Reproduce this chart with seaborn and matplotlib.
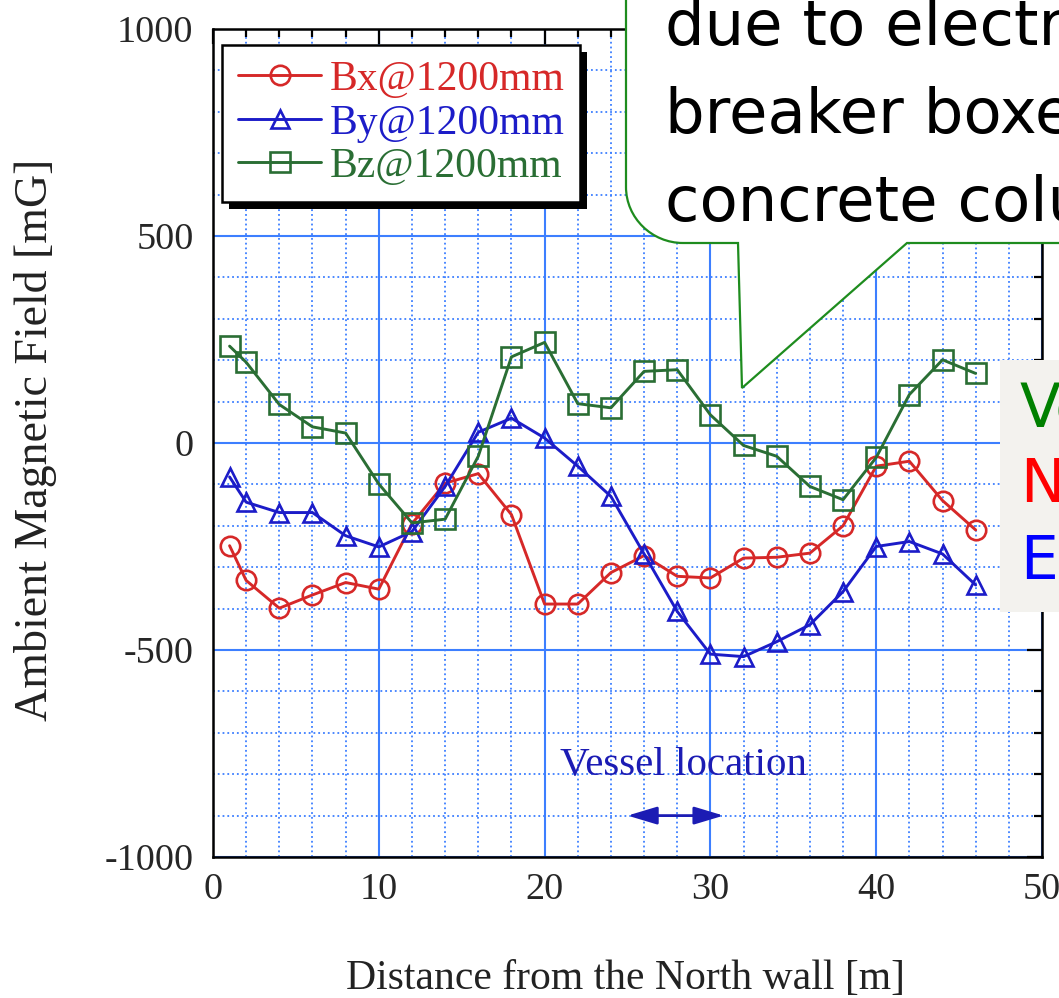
import matplotlib
matplotlib.use("Agg")
import matplotlib.pyplot as plt
import numpy as np
import pandas as pd
import seaborn as sns
from matplotlib.path import Path
from matplotlib.patches import PathPatch, Rectangle
from matplotlib.ticker import MultipleLocator

# Ambient field survey along the hall, sensor height 1200 mm
distance_m = [1, 2, 4, 6, 8, 10, 12, 14, 16, 18, 20, 22, 24, 26, 28, 30,
              32, 34, 36, 38, 40, 42, 44, 46]
bx_mG = [-248, -332, -399, -367, -337, -353, -195, -97, -74, -173, -389, -389,
         -313, -272, -322, -326, -278, -276, -266, -200, -56, -44, -139, -210]
by_mG = [-82, -143, -168, -168, -224, -251, -214, -105, 26, 60, 12, -56,
         -129, -268, -407, -510, -516, -480, -439, -359, -250, -238, -268, -343]
bz_mG = [234, 195, 93, 39, 24, -99, -193, -184, -32, 208, 243, 95,
         85, 173, 177, 68, -6, -32, -105, -137, -35, 117, 201, 168]

series_labels = ["Bx@1200mm", "By@1200mm", "Bz@1200mm"]
series_colors = ["#d62828", "#1c1cc8", "#2a6e34"]
series_markers = ["o", "^", "s"]

callout_lines = ["due to electric", "breaker boxes in", "concrete columns"]
axis_words = ["Vertical", "North", "East"]
axis_word_colors = ["#008000", "#ff0000", "#0000ff"]

W, H = 1059, 998
sns.set_theme(style="white")
plt.rcParams["font.family"] = ["Liberation Serif", "DejaVu Serif"]
plt.rcParams["axes.unicode_minus"] = False

fig = plt.figure(figsize=(W / 100, H / 100), dpi=100)
ax = fig.add_axes([213 / W, 1 - 857 / H, (1042 - 213) / W, (857 - 29) / H])

frames = []
for lab, vals in zip(series_labels, [bx_mG, by_mG, bz_mG]):
    frames.append(pd.DataFrame({"distance": distance_m, "field": vals, "series": lab}))
df = pd.concat(frames, ignore_index=True)

for lab, col, mk in zip(series_labels, series_colors, series_markers):
    sub = df[df["series"] == lab]
    sns.lineplot(data=sub, x="distance", y="field", ax=ax, color=col,
                 marker=mk, markersize=14 if mk != "^" else 13,
                 markerfacecolor="none", markeredgecolor=col,
                 markeredgewidth=1.9, linewidth=2.1, label=lab,
                 legend=False, zorder=3)

ax.set_xlim(0, 50)
ax.set_ylim(-1000, 1000)
ax.xaxis.set_major_locator(MultipleLocator(10))
ax.xaxis.set_minor_locator(MultipleLocator(2))
ax.yaxis.set_major_locator(MultipleLocator(500))
ax.yaxis.set_minor_locator(MultipleLocator(100))

grid_col = "#3d7fff"
ax.grid(which="major", color=grid_col, linewidth=1.5, linestyle="-", zorder=1)
ax.grid(which="minor", color=grid_col, linewidth=1.3, linestyle=":", zorder=1)
ax.set_axisbelow(True)

ax.tick_params(which="both", direction="in", top=True, right=True,
               color="black", width=1.6)
ax.tick_params(which="major", length=11, labelsize=27.5)
ax.tick_params(axis="x", which="major", pad=11)
ax.tick_params(axis="y", which="major", pad=14)
ax.tick_params(which="minor", length=6)
for s in ax.spines.values():
    s.set_color("black")
    s.set_linewidth(1.8)
    s.set_zorder(4)

ax.set_xlabel("Distance from the North wall [m]", fontsize=30, color="#222222")
ax.xaxis.set_label_coords(0.498, -0.124)
ax.set_ylabel("Ambient Magnetic Field [mG]", fontsize=33, color="#222222")
ax.yaxis.set_label_coords(-0.188, 0.504)
ax.yaxis.label.set_va("bottom")

# legend with a solid drop shadow
leg = ax.legend(loc="upper left", bbox_to_anchor=(0.011, 0.981),
                borderaxespad=0, fontsize=30, frameon=True, fancybox=False,
                handlelength=2.0, handletextpad=0.2, labelspacing=0.12,
                borderpad=0.38, edgecolor="black", framealpha=1)
leg.get_frame().set_linewidth(1.8)
for txt, col in zip(leg.get_texts(), series_colors):
    txt.set_color(col)
leg.set_zorder(6)

# vessel position
vessel_col = "#1c1cb4"
ax.text(28.35, -778, "Vessel location", color=vessel_col, ha="center",
        va="center", fontsize=29.5, zorder=5)
ax.annotate("", xy=(25.0, -900), xytext=(30.8, -900),
            arrowprops=dict(arrowstyle="<|-|>,head_length=0.9,head_width=0.27",
                            color=vessel_col, lw=2, mutation_scale=20,
                            shrinkA=0, shrinkB=0), zorder=5)

fig.canvas.draw()
bb = leg.get_frame().get_window_extent(fig.canvas.get_renderer())
shadow = Rectangle((bb.x0 + 7, bb.y0 - 7), bb.width, bb.height,
                   transform=None, facecolor="black", edgecolor="none",
                   zorder=5.5)
ax.add_artist(shadow)


def fpt(x, y):
    return (x / W, 1 - y / H)


# speech bubble in the upper right corner
verts = [fpt(626, -10), fpt(626, 187), fpt(626, 218), fpt(652, 243),
         fpt(683, 243), fpt(738, 243), fpt(742, 388), fpt(907, 243),
         fpt(1075, 243), fpt(1075, -10), fpt(626, -10)]
codes = [Path.MOVETO, Path.LINETO, Path.CURVE4, Path.CURVE4, Path.CURVE4,
         Path.LINETO, Path.LINETO, Path.LINETO, Path.LINETO, Path.LINETO,
         Path.CLOSEPOLY]
bubble = PathPatch(Path(verts, codes), transform=fig.transFigure,
                   facecolor="white", edgecolor="#1e8c1e", linewidth=1.6,
                   zorder=10)
fig.add_artist(bubble)
for i, line in enumerate(callout_lines):
    x, y = fpt(665, 45 + 88 * i)
    fig.text(x, y, line, fontsize=45, va="baseline", ha="left",
             family=["DejaVu Sans"], color="black", zorder=11)

# colour key panel on the right edge
panel = Rectangle(fpt(1000, 612), 80 / W, (612 - 360) / H,
                  transform=fig.transFigure, facecolor="#f3f2ee",
                  edgecolor="none", zorder=10)
fig.add_artist(panel)
for i, (word, col) in enumerate(zip(axis_words, axis_word_colors)):
    x, y = fpt(1020, 410 + 76 * i)
    fig.text(x, y, word, fontsize=43, va="center", ha="left", color=col,
             family=["DejaVu Sans"], zorder=11)

fig.savefig("out.png", dpi=100)
